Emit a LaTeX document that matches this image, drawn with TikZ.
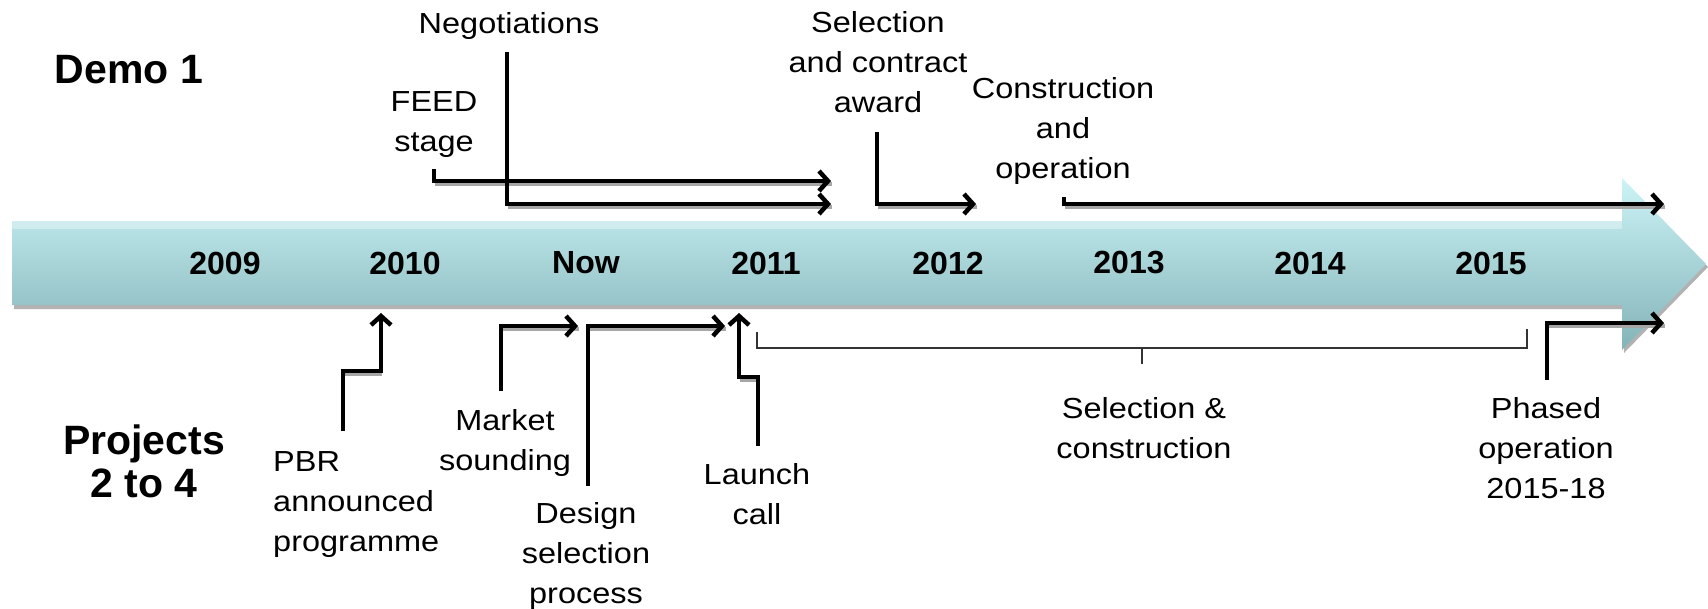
\documentclass[tikz,border=0pt]{standalone}
\usepackage{fontspec}
\setmainfont{Liberation Sans}
\newfontfamily\lblfont[FakeStretch=1.12]{Liberation Sans}
\usetikzlibrary{arrows.meta}
\definecolor{bandtop}{RGB}{204,244,247}
\definecolor{bandbot}{RGB}{131,179,184}
\begin{document}
\begin{tikzpicture}[x=1pt,y=-1pt,
  lbl/.style={font=\lblfont\fontsize{29}{40}\selectfont, align=center, inner sep=0pt},
  yr/.style={font=\bfseries\fontsize{32}{38}\selectfont, inner sep=0pt},
  ttl/.style={font=\bfseries\fontsize{41}{43}\selectfont, align=center, inner sep=0pt},
  flowshadow/.style={draw=black!35, line width=4pt, line join=miter, transform canvas={xshift=1pt,yshift=-3pt}},
  flow/.style={draw=black, line width=4.5pt, line join=miter, -{Straight Barb[length=9pt,width=20pt]}},
  brk/.style={draw=black!80, line width=2pt, line join=miter}]
\useasboundingbox (0,0) rectangle (1708,608);
% timeline band
\fill[black!30] (14,224) -- (1624,224) -- (1624,181) -- (1708,267) -- (1624,353) -- (1624,309) -- (14,309) -- cycle;
\shade[top color=bandtop, bottom color=bandbot] (12,221) -- (1622,221) -- (1622,178) -- (1706,264) -- (1622,350) -- (1622,305) -- (12,305) -- cycle;
\fill[white, opacity=0.35] (12,221) rectangle (1622,229);
% years
\node[yr] (y2009) at (225,263) {2009};
\node[yr] (y2010) at (405,263) {2010};
\node[yr] (ynow)  at (586,263) {Now};
\node[yr] (y2011) at (766,263) {2011};
\node[yr] (y2012) at (948,263) {2012};
\node[yr] (y2013) at (1129,263) {2013};
\node[yr] (y2014) at (1310,263) {2014};
\node[yr] (y2015) at (1491,263) {2015};
% titles
\node[ttl] (demo) at (129,70) {Demo 1};
\node[ttl] (proj) at (144,461) {Projects\\2 to 4};
% labels
\node[lbl] (neg) at (509,26) {Negotiations};
\node[lbl] (feed) at (434,125) {FEED\\stage};
\node[lbl] (sel) at (878,62) {Selection\\and contract\\award};
\node[lbl] (con) at (1063,131) {Construction\\and\\operation};
\node[lbl, align=left, anchor=west] (pbr) at (273,505) {PBR\\announced\\programme};
\node[lbl] (mkt) at (505,443) {Market\\sounding};
\node[lbl] (des) at (586,556) {Design\\selection\\process};
\node[lbl] (lau) at (757,494) {Launch\\call};
\node[lbl] (sc) at (1144,428) {Selection \&\\construction};
\node[lbl] (pha) at (1546,448) {Phased\\operation\\2015-18};
% coordinates
\coordinate (feedA) at (434,169); \coordinate (feedB) at (434,181); \coordinate (feedC) at (831,181);
\coordinate (negA) at (507,52); \coordinate (negB) at (507,204); \coordinate (negC) at (831,204);
\coordinate (selA) at (877,132); \coordinate (selB) at (877,204); \coordinate (selC) at (976,204);
\coordinate (conA) at (1064,197); \coordinate (conB) at (1064,204); \coordinate (conC) at (1664,204);
\coordinate (pbrA) at (343,431); \coordinate (pbrB) at (343,371); \coordinate (pbrC) at (381,371); \coordinate (pbrD) at (381,313);
\coordinate (mktA) at (501,391); \coordinate (mktB) at (501,326); \coordinate (mktC) at (578,326);
\coordinate (desA) at (588,486); \coordinate (desB) at (588,326); \coordinate (desC) at (725,326);
\coordinate (lauA) at (758,446); \coordinate (lauB) at (758,377); \coordinate (lauC) at (739,377); \coordinate (lauD) at (739,313);
\coordinate (phaA) at (1547,380); \coordinate (phaB) at (1547,323); \coordinate (phaC) at (1664,323);
\coordinate (brA) at (757,332); \coordinate (brB) at (757,348); \coordinate (brC) at (1527,348); \coordinate (brD) at (1527,329);
\coordinate (brM) at (1142,348); \coordinate (brN) at (1142,364);
% shadows
\draw[flowshadow] (feedB) -- (feedC);
\draw[flowshadow] (negB) -- (negC);
\draw[flowshadow] (selB) -- (selC);
\draw[flowshadow] (conB) -- (conC);
\draw[flowshadow] (pbrB) -- (pbrC);
\draw[flowshadow] (mktB) -- (mktC);
\draw[flowshadow] (desB) -- (desC);
\draw[flowshadow] (lauC) -- (lauB);
\draw[flowshadow] (phaB) -- (phaC);
% arrows
\draw[flow] (feedA) -- (feedB) -- (feedC);
\draw[flow] (negA) -- (negB) -- (negC);
\draw[flow] (selA) -- (selB) -- (selC);
\draw[flow] (conA) -- (conB) -- (conC);
\draw[flow] (pbrA) -- (pbrB) -- (pbrC) -- (pbrD);
\draw[flow] (mktA) -- (mktB) -- (mktC);
\draw[flow] (desA) -- (desB) -- (desC);
\draw[flow] (lauA) -- (lauB) -- (lauC) -- (lauD);
\draw[flow] (phaA) -- (phaB) -- (phaC);
% bracket
\draw[brk] (brA) -- (brB) -- (brC) -- (brD);
\draw[brk] (brM) -- (brN);
\end{tikzpicture}
\end{document}
